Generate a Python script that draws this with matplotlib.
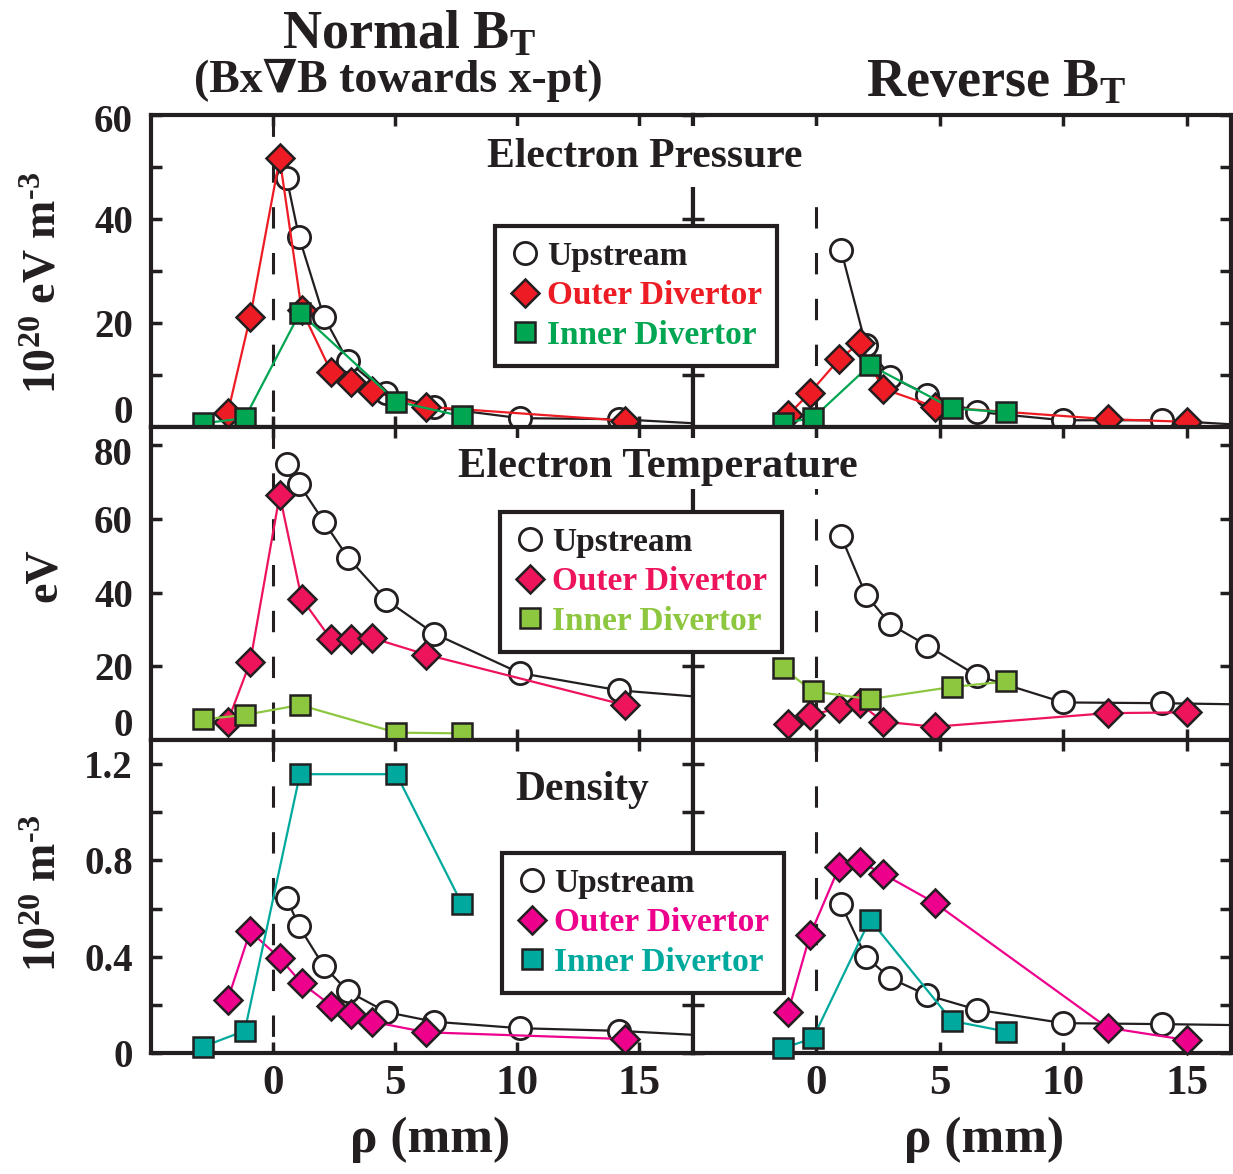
import numpy as np
import matplotlib
matplotlib.use('Agg')
import matplotlib.pyplot as plt
from matplotlib.lines import Line2D
from matplotlib.patches import Rectangle
from matplotlib.transforms import ScaledTranslation

plt.rcParams['font.family'] = ['Liberation Serif', 'DejaVu Serif']
plt.rcParams['font.weight'] = 'bold'
plt.rcParams['mathtext.fontset'] = 'custom'
plt.rcParams['mathtext.rm'] = 'Liberation Serif:bold'
plt.rcParams['mathtext.bf'] = 'Liberation Serif:bold'
plt.rcParams['mathtext.it'] = 'Liberation Serif:bold'

# ---- data: rho (mm) positions ----
# normal BT (left column)
xN_up = [0.56, 1.06, 2.08, 3.07, 4.64, 6.6, 10.1, 14.15, 17.3]   # last = fit tail
xN_out = [-1.86, -0.94, 0.27, 1.17, 2.38, 3.2, 4.06, 6.27, 14.4]
xN_in = [-2.88, -1.16, 1.1, 5.05, 7.73]
# reverse BT (right column)
xR_up = [1.0, 2.0, 3.0, 4.5, 6.5, 10.0, 14.0, 16.9]
xR_out = [-1.15, -0.26, 0.92, 1.76, 2.68, 4.79, 11.8, 15.0]
xR_in = [-1.36, -0.14, 2.17, 5.5, 7.7]

# electron pressure (1e20 eV m^-3)
pN_up = [47.8, 36.6, 21.2, 12.6, 6.5, 3.8, 1.7, 1.5, 0.7]
pN_out = [2.6, 21.1, 51.7, 22.5, 10.6, 8.7, 6.9, 3.9, 1.2]
pN_in = [0.7, 1.7, 22.0, 4.9, 2.1]
pR_up = [34.0, 15.8, 9.7, 6.2, 2.9, 1.3, 1.3, 0.5]
pR_out = [2.3, 6.6, 13.0, 16.2, 7.4, 3.9, 1.5, 1.0]
pR_in = [0.8, 1.7, 11.9, 3.6, 2.8]

# electron temperature (eV)
tN_up = [75.0, 69.5, 59.3, 49.5, 38.0, 28.9, 18.2, 13.5, 11.8]
tN_out = [5.0, 21.1, 66.5, 38.4, 27.3, 27.3, 27.7, 23.2, 9.5]
tN_in = [5.6, 6.8, 9.5, 2.0, 1.8]
tR_up = [55.3, 39.5, 31.4, 25.6, 17.5, 10.2, 10.0, 9.7]
tR_out = [4.4, 6.8, 8.6, 10.0, 5.0, 3.6, 7.3, 7.5]
tR_in = [19.5, 13.2, 11.1, 14.4, 15.9]

# density (1e20 m^-3)
nN_up = [0.642, 0.526, 0.36, 0.256, 0.17, 0.13, 0.103, 0.092, 0.075]
nN_out = [0.221, 0.505, 0.395, 0.29, 0.197, 0.161, 0.13, 0.086, 0.058]
nN_in = [0.026, 0.092, 1.158, 1.158, 0.62]
nR_up = [0.617, 0.40, 0.31, 0.24, 0.18, 0.124, 0.12, 0.116]
nR_out = [0.17, 0.489, 0.772, 0.794, 0.745, 0.624, 0.105, 0.054]
nR_in = [0.02, 0.061, 0.554, 0.133, 0.089]

labels = ['Upstream', 'Outer Divertor', 'Inner Divertor']
row_colors = [('#ED1C24', '#00A651'), ('#ED145B', '#8DC63F'), ('#EC008C', '#00A99D')]

W, H = 1233, 1174
fig = plt.figure(figsize=(W / 100, H / 100), dpi=100)


def fx(px):
    return px / W


def fy(py):
    return 1 - py / H


def nudge(label, dy_px):
    # shift a tick label vertically by a few pixels (positive = down)
    label.set_transform(label.get_transform() +
                        ScaledTranslation(0, -dy_px / 100, fig.dpi_scale_trans))


cols = [(151, 693), (693, 1231)]
rows = [(115, 427), (427, 740), (740, 1053)]
xlims = [(-5, 17.2), (-5, 16.8)]
ylims = [(0, 60), (0, 85), (0, 1.3)]
ymajor = [[0, 20, 40, 60], [0, 20, 40, 60, 80], [0, 0.4, 0.8, 1.2]]
yminor = [[10, 30, 50], [], [0.2, 0.6, 1.0]]
yfmt = [['0', '20', '40', '60'], ['0', '20', '40', '60', '80'], ['0', '0.4', '0.8', '1.2']]

data = [
    [(xN_up, pN_up, xN_out, pN_out, xN_in, pN_in), (xR_up, pR_up, xR_out, pR_out, xR_in, pR_in)],
    [(xN_up, tN_up, xN_out, tN_out, xN_in, tN_in), (xR_up, tR_up, xR_out, tR_out, xR_in, tR_in)],
    [(xN_up, nN_up, xN_out, nN_out, xN_in, nN_in), (xR_up, nR_up, xR_out, nR_out, xR_in, nR_in)],
]

for r, (y0, y1) in enumerate(rows):
    c_out, c_in = row_colors[r]
    for c, (x0, x1) in enumerate(cols):
        ax = fig.add_axes([fx(x0), fy(y1), (x1 - x0) / W, (y1 - y0) / H])
        xu, yu, xo, yo, xi, yi = data[r][c]
        # upstream: line runs out to the edge (fit tail), markers on measured points
        ax.plot(xu, yu, '-', color='#231F20', lw=1.6, zorder=2)
        ax.plot(xu[:-1], yu[:-1], 'o', ms=16, mfc='white', mec='#231F20', mew=2.0,
                clip_on=False, zorder=3)
        ax.plot(xo, yo, '-', color=c_out, lw=1.6, zorder=4)
        ax.plot(xo, yo, 'D', ms=14, mfc=c_out, mec='#231F20', mew=1.8,
                clip_on=False, zorder=5)
        ax.plot(xi, yi, '-', color=c_in, lw=1.6, zorder=6)
        ax.plot(xi, yi, 's', ms=14, mfc=c_in, mec='#231F20', mew=1.8,
                clip_on=False, zorder=7)
        ax.axvline(0, 1, 0, color='#231F20', lw=2.2, ls=(0, (7, 8)), zorder=1)

        ax.set_xlim(*xlims[c])
        ax.set_ylim(*ylims[r])
        ax.set_xticks([0, 5, 10, 15])
        ax.set_yticks(ymajor[r])
        ax.set_yticks(yminor[r], minor=True)
        ax.tick_params(which='both', direction='in', length=8, width=2.5,
                       top=True, right=True, color='#231F20', labelcolor='#231F20')
        if c == 0:
            ax.set_yticklabels(yfmt[r], fontsize=28, fontweight='bold')
            ax.tick_params(axis='y', pad=13)
            ylabs = ax.get_yticklabels()
            if r < 2:
                ylabs[0].set_va('baseline')
                nudge(ylabs[0], -4)
            if r == 0:
                nudge(ylabs[-1], 3)
            if r == 1:
                nudge(ylabs[-1], 6)
        else:
            ax.set_yticklabels([])
        if r == 2:
            ax.set_xticklabels(['0', '5', '10', '15'], fontsize=31, fontweight='bold')
            ax.tick_params(axis='x', pad=9)
        else:
            ax.set_xticklabels([])
        for s in ax.spines.values():
            s.set_linewidth(3)
            s.set_color('#231F20')


def white_box(x0, y0, x1, y1):
    fig.patches.append(Rectangle((fx(x0), fy(y1)), (x1 - x0) / W, (y1 - y0) / H,
                                 transform=fig.transFigure, facecolor='white',
                                 edgecolor='none', zorder=2))


white_box(470, 126, 832, 187)
white_box(445, 438, 872, 489)

txt = dict(color='#231F20', fontweight='bold', ha='center', va='center', zorder=3)
fig.text(fx(645), fy(157), 'Electron Pressure', fontsize=30, **txt)
fig.text(fx(658), fy(467), 'Electron Temperature', fontsize=30.5, **txt)
fig.text(fx(582), fy(790), 'Density', fontsize=30, **txt)

fig.text(fx(409), fy(35), r'Normal B$_\mathbf{T}$', fontsize=39, **txt)
fig.text(fx(398), fy(80), '(Bx\u2207B towards x-pt)', fontsize=33, **txt)
fig.text(fx(996), fy(83), r'Reverse B$_\mathbf{T}$', fontsize=39, **txt)

fig.text(fx(45), fy(283), '10$^{\\mathbf{20}}$ eV m$^{\\mathbf{\u20103}}$', fontsize=33, rotation=90, **txt)
fig.text(fx(45), fy(575), 'eV', fontsize=33, rotation=90, **txt)
fig.text(fx(45), fy(893), '10$^{\\mathbf{20}}$ m$^{\\mathbf{\u20103}}$', fontsize=33, rotation=90, **txt)

fig.text(fx(430), fy(1140), '\u03c1 (mm)', fontsize=37, **txt)
fig.text(fx(984), fy(1140), '\u03c1 (mm)', fontsize=37, **txt)


def add_legend(x0, y0, c_out, c_in):
    handles = [
        Line2D([], [], ls='none', marker='o', ms=16, mfc='white', mec='#231F20', mew=2.0),
        Line2D([], [], ls='none', marker='D', ms=14, mfc=c_out, mec='#231F20', mew=1.8),
        Line2D([], [], ls='none', marker='s', ms=14, mfc=c_in, mec='#231F20', mew=1.8),
    ]
    leg = fig.legend(handles, labels, loc='upper left', bbox_to_anchor=(fx(x0), fy(y0)),
                     bbox_transform=fig.transFigure, borderaxespad=0, fancybox=False,
                     framealpha=1, edgecolor='#231F20', prop=dict(size=24, weight='bold'),
                     handlelength=0.9, handletextpad=0.2, borderpad=0.45, labelspacing=0.25)
    leg.get_frame().set_linewidth(3)
    for t, col in zip(leg.get_texts(), ['#231F20', c_out, c_in]):
        t.set_color(col)


add_legend(495, 226, *row_colors[0])
add_legend(500, 512, *row_colors[1])
add_legend(502, 853, *row_colors[2])

fig.savefig('out.png', dpi=100)
